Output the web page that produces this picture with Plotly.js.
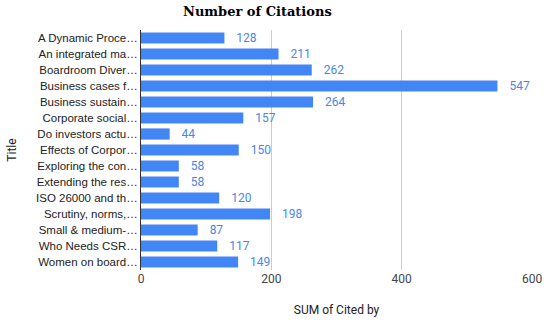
<!DOCTYPE html>
<html><head><meta charset="utf-8">
<script src="https://cdn.plot.ly/plotly-3.0.1.min.js"></script>
<style>html,body{margin:0;padding:0;background:#fff}#chart{width:550px;height:322px}</style>
</head><body><div id="chart"></div>
<script>
const titles = ["A Dynamic Proce…","An integrated ma…","Boardroom Diver…","Business cases f…","Business sustain…","Corporate social…","Do investors actu…","Effects of Corpor…","Exploring the con…","Extending the res…","ISO 26000 and th…","Scrutiny, norms,…","Small & medium-…","Who Needs CSR…","Women on board…"];
const citedBy = [128,211,262,547,264,157,44,150,58,58,120,198,87,117,149];
const xTicks = [0,200,400,600];

Plotly.newPlot('chart', [{
  type:'bar', orientation:'h',
  y: titles, x: citedBy,
  marker:{color:'#4285F4'},
  text: citedBy.map(v=>'   '+v), textposition:'outside', constraintext:'none',
  textfont:{family:'Roboto, Arial, sans-serif', size:12, color:'#4a86e8'},
  cliponaxis:false,
  hoverinfo:'none'
}], {
  width:550, height:322,
  margin:{l:141, r:18, t:30, b:52},
  paper_bgcolor:'#fff', plot_bgcolor:'#fff',
  bargap:0.3,
  title:{text:'<b>Number of Citations</b>', x:0.468, xanchor:'center', y:0.98, yanchor:'top',
    font:{family:'DejaVu Serif, Georgia, serif', size:13, color:'#000'}},
  xaxis:{range:[0,600], tickvals:xTicks, showgrid:true, gridcolor:'#cccccc', zeroline:false,
    tickfont:{family:'Roboto, Arial, sans-serif', size:12, color:'#444'},
    title:{text:'SUM of Cited by', standoff:20, font:{family:'Roboto, Arial, sans-serif', size:12, color:'#222'}},
    fixedrange:true},
  yaxis:{autorange:'reversed', showline:true, linecolor:'#333', linewidth:1, ticks:'',
    tickfont:{family:'Arial, Liberation Sans, sans-serif', size:11.5, color:'#222'},
    title:{text:'Title', standoff:16, font:{family:'Roboto, Arial, sans-serif', size:12, color:'#222'}},
    fixedrange:true},
  showlegend:false
}, {displayModeBar:false, staticPlot:true});
</script></body></html>
